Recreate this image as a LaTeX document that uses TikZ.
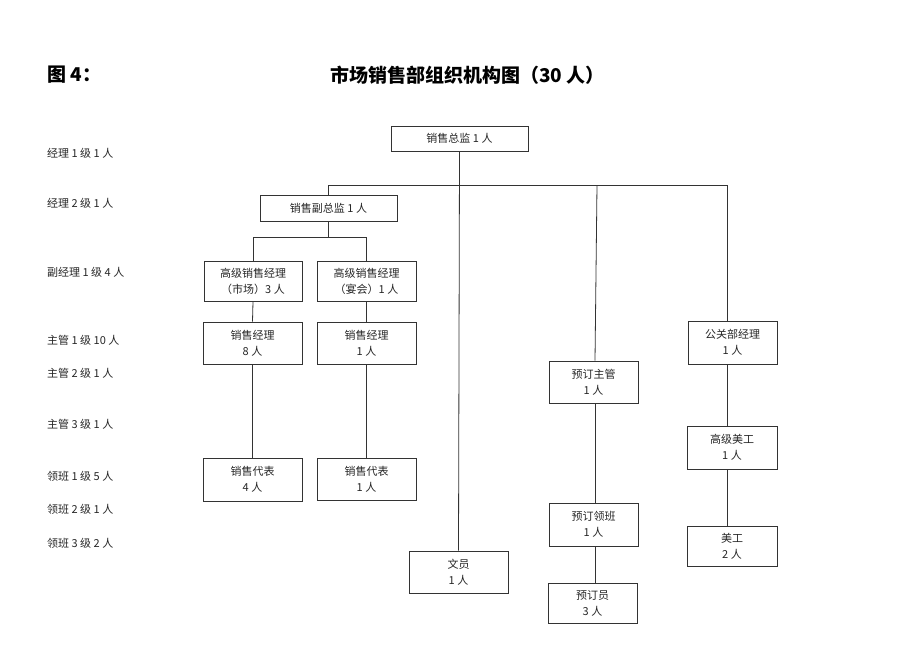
\documentclass[tikz,border=0pt]{standalone}
\usepackage{fontspec}
\setmainfont{Noto Sans CJK SC}
\begin{document}
\begin{tikzpicture}[x=1pt,y=-1pt,
  box/.style={draw=black!80, line width=0.8pt, inner sep=0pt, align=center,
    font=\fontsize{11}{16}\selectfont, text=black!85},
  ln/.style={draw=black!80, line width=0.8pt},
  lvl/.style={anchor=west, inner sep=0pt, font=\fontsize{11}{13}\selectfont, text=black!85}]
\useasboundingbox[fill=white] (0,0) rectangle (920,651);

% title
\node[anchor=west, inner sep=0pt, font=\fontsize{19}{22}\selectfont\bfseries] (t1) at (47,75) {图 4：};
\node[anchor=west, inner sep=0pt, font=\fontsize{19}{22}\selectfont\bfseries] (t2) at (330,75) {市场销售部组织机构图（30 人）};

% level labels
\node[lvl] (l1) at (47,153) {经理 1 级 1 人};
\node[lvl] (l2) at (47,203) {经理 2 级 1 人};
\node[lvl] (l3) at (47,272) {副经理 1 级 4 人};
\node[lvl] (l4) at (47,340) {主管 1 级 10 人};
\node[lvl] (l5) at (47,373) {主管 2 级 1 人};
\node[lvl] (l6) at (47,424) {主管 3 级 1 人};
\node[lvl] (l7) at (47,476) {领班 1 级 5 人};
\node[lvl] (l8) at (47,509) {领班 2 级 1 人};
\node[lvl] (l9) at (47,543) {领班 3 级 2 人};

% boxes
\node[box, minimum width=137pt, minimum height=25pt] (zj) at (459.5,138.5) {销售总监 1 人};
\node[box, minimum width=137pt, minimum height=26pt] (fzj) at (328.5,208) {销售副总监 1 人};
\node[box, minimum width=98pt, minimum height=40pt] (gx1) at (253,281) {高级销售经理\\（市场）3 人};
\node[box, minimum width=99pt, minimum height=40pt] (gx2) at (366.5,281) {高级销售经理\\（宴会）1 人};
\node[box, minimum width=99pt, minimum height=42pt] (jl1) at (252.5,343) {销售经理\\8 人};
\node[box, minimum width=99pt, minimum height=42pt] (jl2) at (366.5,343) {销售经理\\1 人};
\node[box, minimum width=99pt, minimum height=43pt] (db1) at (252.5,479.5) {销售代表\\4 人};
\node[box, minimum width=99pt, minimum height=42pt] (db2) at (366.5,479) {销售代表\\1 人};
\node[box, minimum width=99pt, minimum height=42pt] (wy) at (458.5,572) {文员\\1 人};
\node[box, minimum width=89pt, minimum height=42pt] (ydzg) at (593.5,382) {预订主管\\1 人};
\node[box, minimum width=89pt, minimum height=43pt] (ydlb) at (593.5,524.5) {预订领班\\1 人};
\node[box, minimum width=89pt, minimum height=40pt] (ydy) at (592.5,603) {预订员\\3 人};
\node[box, minimum width=89pt, minimum height=43pt] (gg) at (732.5,342.5) {公关部经理\\1 人};
\node[box, minimum width=90pt, minimum height=43pt] (gjmg) at (732,447.5) {高级美工\\1 人};
\node[box, minimum width=90pt, minimum height=40pt] (mg) at (732,546) {美工\\2 人};

% bus coordinates
\coordinate (bus1) at (330,185);
\coordinate (busR) at (727,185);
\coordinate (busY) at (597,185);
\coordinate (bus2) at (330,237);

% connectors
\draw[ln] (zj.south) -- (wy.north);
\draw[ln] (fzj.north) -- (fzj.north |- bus1) -- (busR) -- ([xshift=-5.5pt]gg.north);
\draw[ln] (busY) -- ([xshift=1.5pt]ydzg.north);
\draw[ln] (fzj.south) -- (fzj.south |- bus2);
\draw[ln] (gx1.north) -- (gx1.north |- bus2) -- (gx2.north |- bus2) -- (gx2.north);
\draw[ln] (gx1.south) -- (jl1.north);
\draw[ln] (jl1.south) -- (db1.north);
\draw[ln] (gx2.south) -- (jl2.north);
\draw[ln] (jl2.south) -- (db2.north);
\draw[ln] ([xshift=1.5pt]ydzg.south) -- ([xshift=1.5pt]ydlb.north);
\draw[ln] ([xshift=1.5pt]ydlb.south) -- ([xshift=2.5pt]ydy.north);
\draw[ln] ([xshift=-5.5pt]gg.south) -- ([xshift=-5pt]gjmg.north);
\draw[ln] ([xshift=-5pt]gjmg.south) -- ([xshift=-5pt]mg.north);
\end{tikzpicture}
\end{document}
